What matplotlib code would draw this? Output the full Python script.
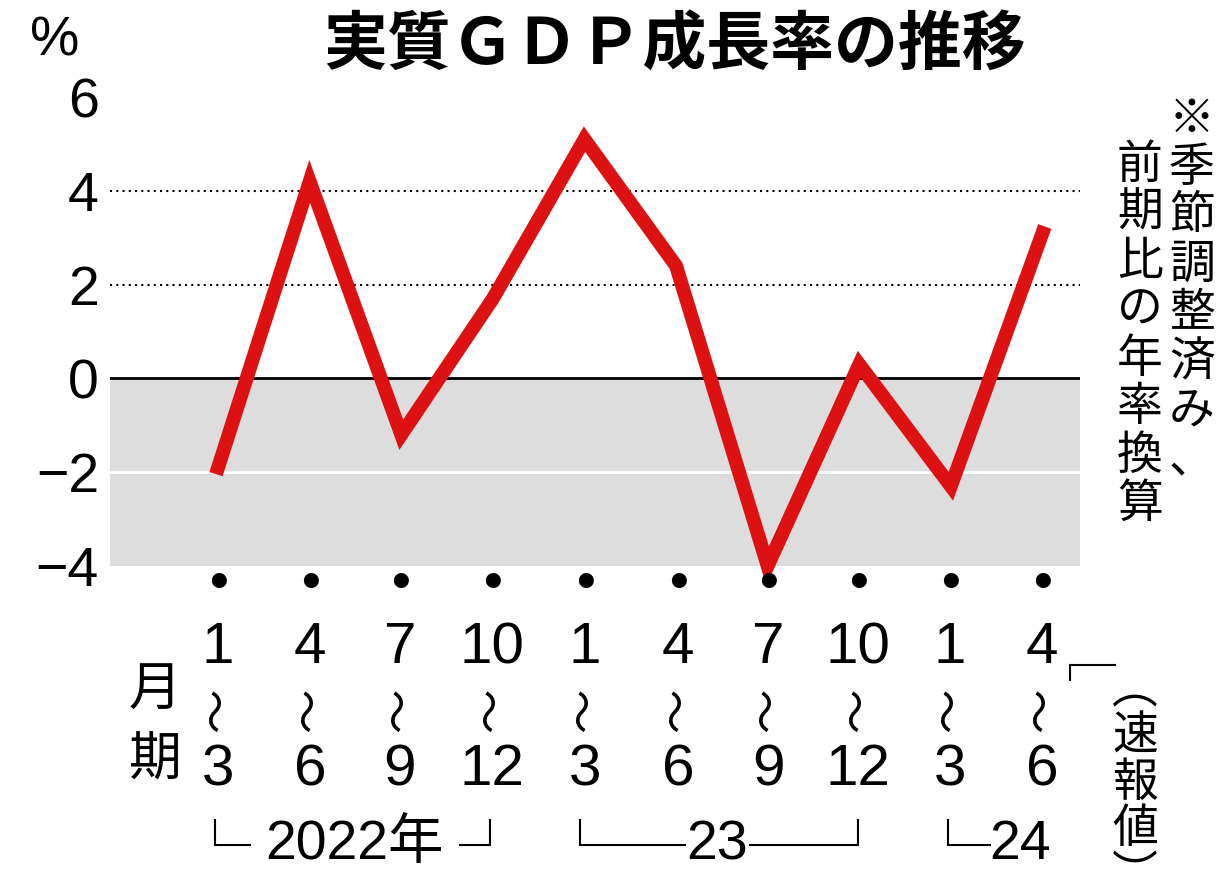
import matplotlib.pyplot as plt
from matplotlib.lines import Line2D

plt.rcParams['font.family'] = ['Noto Sans CJK JP', 'DejaVu Sans']
NUM = ['Liberation Sans', 'Noto Sans CJK JP']

values = [-1.9, 4.2, -1.2, 1.7, 5.1, 2.4, -4.0, 0.3, -2.3, 3.1]
start_month = ['1', '4', '7', '10', '1', '4', '7', '10', '1', '4']
end_month = ['3', '6', '9', '12', '3', '6', '9', '12', '3', '6']
yticks = [6, 4, 2, 0, -2, -4]

W, H = 1220, 881
fig = plt.figure(figsize=(12.2, 8.81), dpi=100)
ax = fig.add_axes([110 / W, 1 - 566 / H, 970 / W, 469 / H])
ax.set_xlim(-1.18, 9.41)
ax.set_ylim(-4, 6)
ax.axhspan(-4, 0, color='#dddddd', zorder=0)
ax.axhline(-2, color='white', lw=2, zorder=1)
ax.axhline(0, color='black', lw=2, zorder=1)
for g in (2, 4):
    ax.axhline(g, color='black', lw=1.5, ls=(0, (1, 2)), zorder=1)
x = list(range(len(values)))
ax.plot(x, values, color='#dd1111', lw=10, solid_joinstyle='miter', zorder=3, clip_on=False)
for s in ax.spines.values():
    s.set_visible(False)
ax.set_xticks([])
ax.set_yticks(yticks)
ax.set_yticklabels([str(v).replace('-', '−') for v in yticks], fontsize=40, family=NUM)
ax.tick_params(axis='y', length=0, pad=8)

def fx(px):
    return px / W

def fy(py):
    return 1 - py / H

xs = [218, 310, 400, 492, 585, 678, 768, 858, 950, 1042]
for px, a, b in zip(xs, start_month, end_month):
    fig.text(fx(px), fy(583), '●', fontsize=12, ha='center', va='center')
    fig.text(fx(px), fy(648), a, fontsize=42, ha='center', va='center', family=NUM)
    fig.text(fx(px), fy(710), '～', fontsize=32, ha='center', va='center', rotation=90)
    fig.text(fx(px), fy(770), b, fontsize=42, ha='center', va='center', family=NUM)

fig.text(fx(155), fy(690), '月', fontsize=38, ha='center', va='center')
fig.text(fx(155), fy(760), '期', fontsize=38, ha='center', va='center')

fig.text(fx(30), fy(42), '%', fontsize=40, ha='left', va='center', family=NUM)
fig.text(fx(675), fy(45), '実質ＧＤＰ成長率の推移', fontsize=46, ha='center',
         va='center', fontweight='bold')

fig.text(fx(1192), fy(95), '※\n季\n節\n調\n整\n済\nみ\n、', fontsize=33,
         ha='center', va='top', linespacing=1.0)
fig.text(fx(1140), fy(140), '前\n期\n比\nの\n年\n率\n換\n算', fontsize=33,
         ha='center', va='top', linespacing=1.0)
fig.text(fx(1135), fy(665), '︵\n速\n報\n値\n︶', fontsize=33,
         ha='center', va='top', linespacing=0.95)

def seg(x0, y0, x1, y1):
    fig.add_artist(Line2D([fx(x0), fx(x1)], [fy(y0), fy(y1)], color='black', lw=1.5))

seg(1070, 665, 1115, 665)
seg(1070, 665, 1070, 680)
# year brackets
seg(215, 820, 215, 845); seg(215, 845, 250, 845)
fig.text(fx(355), fy(845), '2022年', fontsize=40, ha='center', va='center', family=NUM)
seg(460, 845, 490, 845); seg(490, 820, 490, 845)
seg(580, 820, 580, 845); seg(580, 845, 685, 845)
fig.text(fx(717), fy(845), '23', fontsize=40, ha='center', va='center', family=NUM)
seg(750, 845, 858, 845); seg(858, 820, 858, 845)
seg(948, 820, 948, 845); seg(948, 845, 990, 845)
fig.text(fx(1020), fy(845), '24', fontsize=40, ha='center', va='center', family=NUM)

fig.savefig('out.png', dpi=100)
